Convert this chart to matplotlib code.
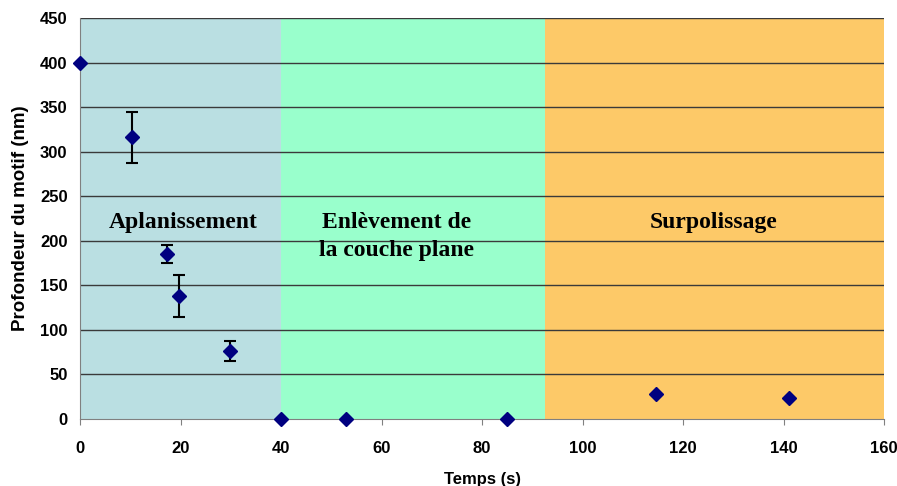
import numpy as np
import matplotlib.pyplot as plt

# measured points (time in s, depth in nm, error half-width)
temps = [0, 10.3, 17.3, 19.7, 29.8, 40, 52.9, 85, 114.6, 141.1]
profondeur = [400, 316, 185, 138, 76, 0, 0, 0, 28, 24]
erreur = [0, 29, 10, 24, 11, 0, 0, 0, 0, 0]

# process regions
zones_debut = [0, 40, 92.5]
zones_fin = [40, 92.5, 160]
zones_couleur = ['#BADFE2', '#99FFCC', '#FDC968']
zones_texte = ['Aplanissement', 'Enlèvement de\nla couche plane', 'Surpolissage']
zones_texte_x = [20.5, 63, 126]
zones_texte_y = [221, 205, 221]

fig = plt.figure(figsize=(8.97, 4.86), dpi=100)
ax = fig.add_axes([80/897, 1 - 419/486, (884-80)/897, (419-18)/486])

for x0, x1, c in zip(zones_debut, zones_fin, zones_couleur):
    ax.axvspan(x0, x1, color=c, zorder=0, lw=0)

for y in range(50, 451, 50):
    ax.axhline(y, color='#3a3a3a', linewidth=1.0, zorder=1)

for x, y, t in zip(zones_texte_x, zones_texte_y, zones_texte):
    ax.text(x, y, t, ha='center', va='center', fontsize=17, fontweight='bold',
            family='Liberation Serif', linespacing=1.4, zorder=3)

err = np.array(erreur, dtype=float)
ax.errorbar(temps, profondeur, yerr=np.where(err > 0, err, np.nan), fmt='none',
            ecolor='black', elinewidth=1.5, capsize=4, capthick=1.5, zorder=4)
ax.plot(temps, profondeur, linestyle='none', marker='D', markersize=7,
        color='#000080', zorder=5, clip_on=False)

ax.set_xlim(0, 160)
ax.set_ylim(0, 450)
ax.set_xticks(range(0, 161, 20))
ax.set_yticks(range(0, 451, 50))
ax.tick_params(axis='x', direction='out', length=4, color='#808080', pad=12)
ax.tick_params(axis='y', length=0, pad=9)
for lab in ax.get_xticklabels() + ax.get_yticklabels():
    lab.set_fontweight('bold')
    lab.set_fontsize(12)
    lab.set_family('Liberation Sans')

for s in ['top', 'right']:
    ax.spines[s].set_visible(False)
ax.spines['left'].set_color('#808080')
ax.spines['bottom'].set_color('#808080')

ax.set_xlabel('Temps (s)', fontsize=12, fontweight='bold', family='Liberation Sans', labelpad=11)
ax.set_ylabel('Profondeur du motif (nm)', fontsize=13.5, fontweight='bold', family='Liberation Sans', labelpad=8)

fig.savefig('out.png', dpi=100)
